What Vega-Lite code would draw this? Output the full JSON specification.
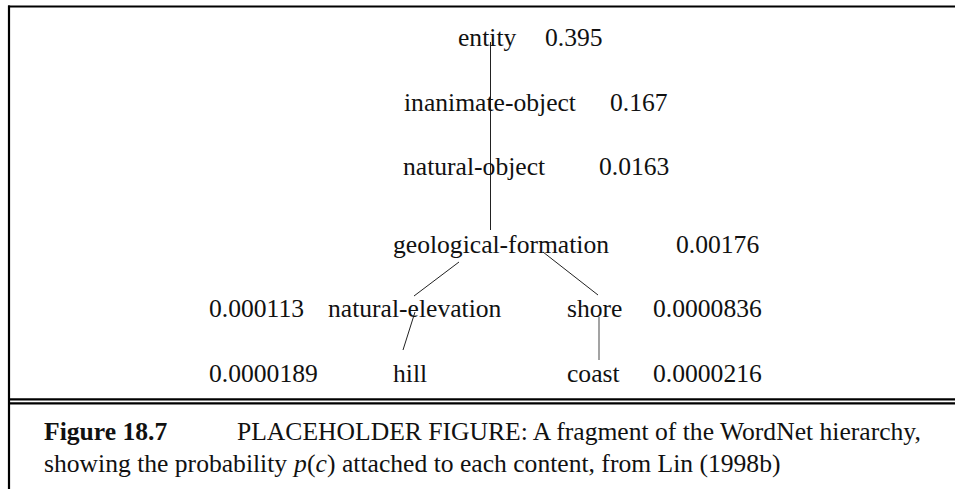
{
  "$schema": "https://vega.github.io/schema/vega-lite/v6.json",
  "width": 955,
  "height": 489,
  "padding": 0,
  "autosize": {"type": "none"},
  "background": "white",
  "config": {"view": {"stroke": null}},
  "datasets": {
    "nodes": [
      {"node": "entity", "p": "0.395", "nx": 458, "px": 545, "y": 45.7},
      {"node": "inanimate-object", "p": "0.167", "nx": 404, "px": 610, "y": 110.5},
      {"node": "natural-object", "p": "0.0163", "nx": 403, "px": 599, "y": 175},
      {"node": "geological-formation", "p": "0.00176", "nx": 393, "px": 676, "y": 253},
      {"node": "natural-elevation", "p": "0.000113", "nx": 328, "px": 209, "y": 316.7},
      {"node": "shore", "p": "0.0000836", "nx": 567, "px": 653, "y": 316.7},
      {"node": "hill", "p": "0.0000189", "nx": 393, "px": 209, "y": 382},
      {"node": "coast", "p": "0.0000216", "nx": 567, "px": 653, "y": 382}
    ],
    "edges": [
      {"parent": "entity", "child": "inanimate-object", "x1": 490.5, "y1": 42, "x2": 490.5, "y2": 100},
      {"parent": "inanimate-object", "child": "natural-object", "x1": 490.5, "y1": 100, "x2": 490.5, "y2": 165},
      {"parent": "natural-object", "child": "geological-formation", "x1": 490.5, "y1": 165, "x2": 490.5, "y2": 230},
      {"parent": "geological-formation", "child": "natural-elevation", "x1": 459, "y1": 262, "x2": 414, "y2": 296},
      {"parent": "geological-formation", "child": "shore", "x1": 543, "y1": 252, "x2": 598, "y2": 295},
      {"parent": "natural-elevation", "child": "hill", "x1": 415, "y1": 312, "x2": 403, "y2": 350}
    ],
    "grayEdges": [
      {"parent": "shore", "child": "coast", "x1": 599, "y1": 317, "x2": 599, "y2": 360}
    ],
    "frame": [
      {"part": "top", "x1": 8, "y1": 6.5, "x2": 955, "y2": 6.5},
      {"part": "left", "x1": 9, "y1": 5.5, "x2": 9, "y2": 489},
      {"part": "double-1", "x1": 9, "y1": 399.3, "x2": 955, "y2": 399.3},
      {"part": "double-2", "x1": 9, "y1": 403.3, "x2": 955, "y2": 403.3}
    ],
    "captionBold": [
      {"text": "Figure 18.7", "x": 44, "y": 440}
    ],
    "captionRoman": [
      {"text": "PLACEHOLDER FIGURE: A fragment of the WordNet hierarchy,", "x": 237, "y": 440},
      {"text": "showing the probability", "x": 44, "y": 471.7},
      {"text": "(", "x": 307, "y": 471.7},
      {"text": ")", "x": 327, "y": 471.7},
      {"text": "attached to each content, from Lin (1998b)", "x": 342, "y": 471.7}
    ],
    "captionItalic": [
      {"text": "p", "x": 294, "y": 471.7},
      {"text": "c", "x": 315.5, "y": 471.7}
    ]
  },
  "layer": [
    {
      "data": {"name": "frame"},
      "mark": {"type": "rule", "stroke": "black", "strokeWidth": 2.2},
      "encoding": {
        "x": {"field": "x1", "type": "quantitative", "scale": {"domain": [0, 955]}, "axis": null},
        "y": {"field": "y1", "type": "quantitative", "scale": {"domain": [0, 489], "reverse": true}, "axis": null},
        "x2": {"field": "x2"},
        "y2": {"field": "y2"}
      }
    },
    {
      "data": {"name": "edges"},
      "mark": {"type": "rule", "stroke": "#222222", "strokeWidth": 1},
      "encoding": {
        "x": {"field": "x1", "type": "quantitative", "scale": {"domain": [0, 955]}, "axis": null},
        "y": {"field": "y1", "type": "quantitative", "scale": {"domain": [0, 489], "reverse": true}, "axis": null},
        "x2": {"field": "x2"},
        "y2": {"field": "y2"}
      }
    },
    {
      "data": {"name": "grayEdges"},
      "mark": {"type": "rule", "stroke": "#666666", "strokeWidth": 1.2},
      "encoding": {
        "x": {"field": "x1", "type": "quantitative", "scale": {"domain": [0, 955]}, "axis": null},
        "y": {"field": "y1", "type": "quantitative", "scale": {"domain": [0, 489], "reverse": true}, "axis": null},
        "x2": {"field": "x2"},
        "y2": {"field": "y2"}
      }
    },
    {
      "data": {"name": "nodes"},
      "mark": {"type": "text", "font": "Liberation Serif", "fontSize": 25.6, "align": "left", "baseline": "alphabetic", "fill": "#111111"},
      "encoding": {
        "x": {"field": "nx", "type": "quantitative", "scale": {"domain": [0, 955]}, "axis": null},
        "y": {"field": "y", "type": "quantitative", "scale": {"domain": [0, 489], "reverse": true}, "axis": null},
        "text": {"field": "node"}
      }
    },
    {
      "data": {"name": "nodes"},
      "mark": {"type": "text", "font": "Liberation Serif", "fontSize": 25.6, "align": "left", "baseline": "alphabetic", "fill": "#111111"},
      "encoding": {
        "x": {"field": "px", "type": "quantitative", "scale": {"domain": [0, 955]}, "axis": null},
        "y": {"field": "y", "type": "quantitative", "scale": {"domain": [0, 489], "reverse": true}, "axis": null},
        "text": {"field": "p"}
      }
    },
    {
      "data": {"name": "captionBold"},
      "mark": {"type": "text", "font": "Liberation Serif", "fontSize": 25.6, "fontWeight": "bold", "align": "left", "baseline": "alphabetic", "fill": "#111111"},
      "encoding": {
        "x": {"field": "x", "type": "quantitative", "scale": {"domain": [0, 955]}, "axis": null},
        "y": {"field": "y", "type": "quantitative", "scale": {"domain": [0, 489], "reverse": true}, "axis": null},
        "text": {"field": "text"}
      }
    },
    {
      "data": {"name": "captionRoman"},
      "mark": {"type": "text", "font": "Liberation Serif", "fontSize": 25.6, "align": "left", "baseline": "alphabetic", "fill": "#111111"},
      "encoding": {
        "x": {"field": "x", "type": "quantitative", "scale": {"domain": [0, 955]}, "axis": null},
        "y": {"field": "y", "type": "quantitative", "scale": {"domain": [0, 489], "reverse": true}, "axis": null},
        "text": {"field": "text"}
      }
    },
    {
      "data": {"name": "captionItalic"},
      "mark": {"type": "text", "font": "Liberation Serif", "fontSize": 25.6, "fontStyle": "italic", "align": "left", "baseline": "alphabetic", "fill": "#111111"},
      "encoding": {
        "x": {"field": "x", "type": "quantitative", "scale": {"domain": [0, 955]}, "axis": null},
        "y": {"field": "y", "type": "quantitative", "scale": {"domain": [0, 489], "reverse": true}, "axis": null},
        "text": {"field": "text"}
      }
    }
  ]
}
